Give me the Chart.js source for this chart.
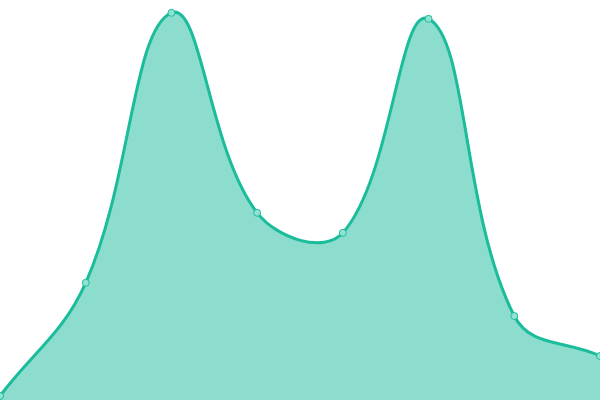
<!DOCTYPE html>
<html>
<head>
<meta charset="utf-8">
<script src="https://cdn.jsdelivr.net/npm/chart.js@4"></script>
<style>
  html, body { margin: 0; padding: 0; background: #fff; }
  #wrap { width: 600px; height: 400px; }
</style>
</head>
<body>
<div id="wrap"><canvas id="chart"></canvas></div>
<script>
// categories and values
const labels = ['1', '2', '3', '4', '5', '6', '7', '8'];
const values = [1, 29.3, 96.8, 46.8, 41.8, 95.3, 21, 11];

const lineColor = 'rgb(26, 188, 156)';
const fillColor = 'rgba(26, 188, 156, 0.5)';

new Chart(document.getElementById('chart'), {
  type: 'line',
  data: {
    labels: labels,
    datasets: [{
      data: values,
      borderColor: lineColor,
      backgroundColor: fillColor,
      borderWidth: 3,
      fill: 'origin',
      tension: 0.4,
      pointRadius: 3.5,
      pointBorderWidth: 1,
      pointBackgroundColor: '#92e2d2', // opaque so the line doesn't show through
      pointBorderColor: lineColor,
      clip: false
    }]
  },
  options: {
    responsive: true,
    maintainAspectRatio: false,
    animation: false,
    layout: { padding: 0, autoPadding: false },
    plugins: { legend: { display: false }, tooltip: { enabled: false } },
    scales: {
      x: { display: false, offset: false },
      y: { display: false, min: 0, max: 100 }
    }
  }
});
</script>
</body>
</html>
